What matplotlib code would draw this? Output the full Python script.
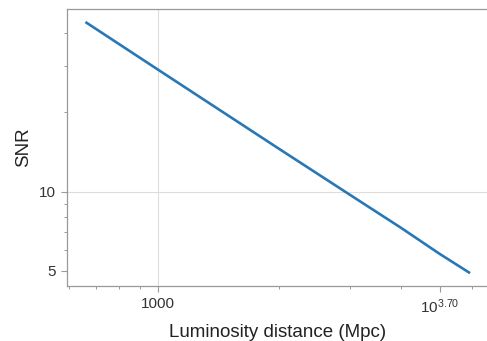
import numpy as np
import matplotlib
matplotlib.use("Agg")
import matplotlib.pyplot as plt
from matplotlib.ticker import FixedLocator, FixedFormatter, LogLocator, NullFormatter

plt.rcParams['font.family'] = ['Liberation Sans', 'DejaVu Sans']
plt.rcParams['mathtext.fontset'] = 'custom'
plt.rcParams['mathtext.rm'] = 'Liberation Sans'
plt.rcParams['mathtext.it'] = 'Liberation Sans:italic'

# values (luminosity distance in Mpc vs SNR)
distance = [660, 1000, 2000, 3000, 4000, 5000, 5950]
snr = [44.0, 29.0, 14.5, 9.7, 7.3, 5.8, 4.9]

xticks = [1000, 10**3.7]
xtick_labels = ['1000', r'$\mathdefault{10^{3.70}}$']
yticks = [5, 10]
ytick_labels = ['5', '10']

fig = plt.figure(figsize=(4.87, 3.41), dpi=100)
ax = fig.add_axes([67/487, 55/341, 422/487, 277/341])

ax.plot(distance, snr, color='#2878b5', lw=1.9, solid_capstyle='butt')
ax.set_xscale('log')
ax.set_yscale('log')
ax.set_xlim(594, 6630)
ax.set_ylim(4.38, 49.3)

ax.xaxis.set_major_locator(FixedLocator(xticks))
ax.xaxis.set_major_formatter(FixedFormatter(xtick_labels))
ax.xaxis.set_minor_locator(LogLocator(base=10, subs=np.arange(2, 10)))
ax.xaxis.set_minor_formatter(NullFormatter())
ax.yaxis.set_major_locator(FixedLocator(yticks))
ax.yaxis.set_major_formatter(FixedFormatter(ytick_labels))
ax.yaxis.set_minor_locator(LogLocator(base=10, subs=np.arange(2, 10)))
ax.yaxis.set_minor_formatter(NullFormatter())

# grid only at 1000 and 10
ax.axvline(1000, color='#dddddd', lw=0.8, zorder=0)
ax.axhline(10, color='#dddddd', lw=0.8, zorder=0)

for s in ax.spines.values():
    s.set_color('#999999')
    s.set_linewidth(0.9)
ax.tick_params(which='major', length=4, width=0.8, color='#999999', labelsize=11, labelcolor='#333333', pad=4)
ax.tick_params(which='minor', length=2.5, width=0.7, color='#999999')

ax.set_xlabel('Luminosity distance (Mpc)', fontsize=13.5, color='#222222', labelpad=6)
ax.set_ylabel('SNR', fontsize=13.5, color='#222222', labelpad=5)

fig.savefig('out.png', dpi=100)
